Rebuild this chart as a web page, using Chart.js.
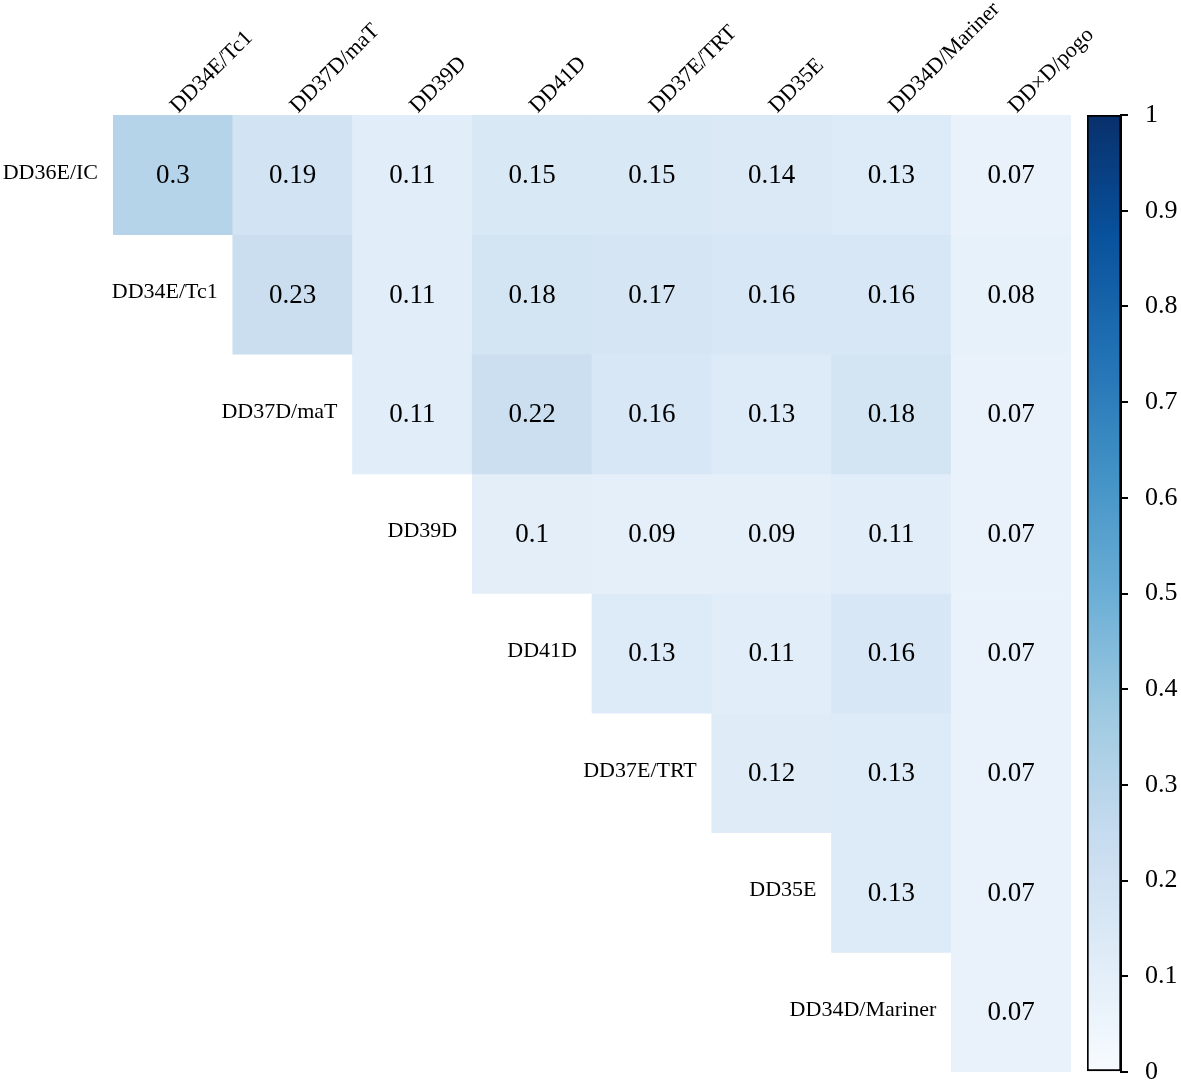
<!DOCTYPE html>
<html><head><meta charset="utf-8">
<script src="https://cdn.jsdelivr.net/npm/chart.js@4/dist/chart.umd.min.js"></script>
<style>
html,body{margin:0;padding:0;background:#fff;overflow:hidden;}
#wrap{position:relative;width:1181px;height:1084px;overflow:hidden;background:#fff;}
#main{position:absolute;left:0;top:0;}
#cbar{position:absolute;left:1060px;top:0;}
</style></head><body>
<div id="wrap">
<canvas id="main" width="1181" height="1084"></canvas>
<canvas id="cbar" width="121" height="1110"></canvas>
</div>
<script>
// ---- data ----
const colLabels = ['DD34E/Tc1','DD37D/maT','DD39D','DD41D','DD37E/TRT','DD35E','DD34D/Mariner','DD\u00d7D/pogo'];
const rowLabels = ['DD36E/IC','DD34E/Tc1','DD37D/maT','DD39D','DD41D','DD37E/TRT','DD35E','DD34D/Mariner'];
const rowDD36E  = [0.3, 0.19, 0.11, 0.15, 0.15, 0.14, 0.13, 0.07];
const rowDD34E  = [null, 0.23, 0.11, 0.18, 0.17, 0.16, 0.16, 0.08];
const rowDD37D  = [null, null, 0.11, 0.22, 0.16, 0.13, 0.18, 0.07];
const rowDD39D  = [null, null, null, 0.1, 0.09, 0.09, 0.11, 0.07];
const rowDD41D  = [null, null, null, null, 0.13, 0.11, 0.16, 0.07];
const rowDD37E  = [null, null, null, null, null, 0.12, 0.13, 0.07];
const rowDD35E  = [null, null, null, null, null, null, 0.13, 0.07];
const rowDD34D  = [null, null, null, null, null, null, null, 0.07];
const values = [rowDD36E,rowDD34E,rowDD37D,rowDD39D,rowDD41D,rowDD37E,rowDD35E,rowDD34D];
const colorbarTicks = [0,0.1,0.2,0.3,0.4,0.5,0.6,0.7,0.8,0.9,1];
const colorbarTickLabels = ['0','0.1','0.2','0.3','0.4','0.5','0.6','0.7','0.8','0.9','1'];

// ---- Blues colormap ----
const bluesStops = ['#f7fbff','#deebf7','#c6dbef','#9ecae1','#6baed6','#4292c6','#2171b5','#08519c','#08306b'];
function hex2rgb(h){return [parseInt(h.slice(1,3),16),parseInt(h.slice(3,5),16),parseInt(h.slice(5,7),16)];}
function blues(v){
  v = Math.max(0, Math.min(1, v));
  const n = bluesStops.length - 1;
  const pos = v * n;
  const i = Math.min(Math.floor(pos), n - 1);
  const t = pos - i;
  const a = hex2rgb(bluesStops[i]), b = hex2rgb(bluesStops[i+1]);
  const c = a.map((x,k)=>Math.round(x + (b[k]-x)*t));
  return 'rgb(' + c.join(',') + ')';
}

const SERIF = '"Liberation Serif", "Times New Roman", serif';

const datasets = rowLabels.map((r, i) => ({
  label: r,
  data: colLabels.map((c, j) => values[i][j] == null ? null : [i, i + 1]),
  backgroundColor: colLabels.map((c, j) => values[i][j] == null ? 'rgba(0,0,0,0)' : blues(values[i][j])),
  borderWidth: 0,
  grouped: false,
  categoryPercentage: 1,
  barPercentage: 1
}));

const cellText = {
  id: 'cellText',
  afterDatasetsDraw(chart) {
    const ctx = chart.ctx;
    ctx.save();
    ctx.fillStyle = '#000';
    chart.data.datasets.forEach((ds, i) => {
      const meta = chart.getDatasetMeta(i);
      meta.data.forEach((bar, j) => {
        const v = values[i][j];
        if (v == null) return;
        const p = bar.getProps(['x', 'y', 'base', 'width'], true);
        const cy = (p.y + p.base) / 2;
        ctx.font = '27px ' + SERIF;
        ctx.textAlign = 'center';
        ctx.textBaseline = 'middle';
        ctx.fillText(String(v), p.x, cy + 1);
        if (j === i) {
          ctx.font = '22px ' + SERIF;
          ctx.textAlign = 'right';
          ctx.fillText(rowLabels[i], p.x - p.width / 2 - 15, cy - 2);
        }
      });
    });
    ctx.restore();
  }
};

new Chart(document.getElementById('main'), {
  type: 'bar',
  data: { labels: colLabels, datasets },
  options: {
    responsive: false,
    animation: false,
    events: [],
    layout: { padding: { left: 113, right: 110, top: 0, bottom: 12 } },
    plugins: { legend: { display: false }, tooltip: { enabled: false } },
    scales: {
      x: {
        position: 'top',
        grid: { display: false },
        border: { display: false },
        ticks: {
          autoSkip: false, minRotation: 45, maxRotation: 45, padding: -12, labelOffset: 20,
          color: '#000', font: { family: SERIF, size: 22 }
        },
        afterFit: s => { s.height = 115; }
      },
      y: { display: false, min: 0, max: 8, reverse: true }
    }
  },
  plugins: [cellText]
});

new Chart(document.getElementById('cbar'), {
  type: 'bar',
  data: {
    labels: [''],
    datasets: [{
      data: [[0, 1]],
      backgroundColor: (c) => {
        const ca = c.chart.chartArea;
        if (!ca) return '#fff';
        const g = c.chart.ctx.createLinearGradient(0, ca.bottom, 0, ca.top);
        bluesStops.forEach((s, k) => g.addColorStop(k / (bluesStops.length - 1), s));
        return g;
      },
      borderColor: '#000',
      borderWidth: 2,
      borderSkipped: false,
      categoryPercentage: 1,
      barPercentage: 1
    }]
  },
  options: {
    responsive: false,
    animation: false,
    events: [],
    layout: { padding: { left: 27, right: 0, top: 115, bottom: 38 } },
    plugins: { legend: { display: false }, tooltip: { enabled: false } },
    scales: {
      x: { display: false },
      y: {
        position: 'right', min: 0, max: 1,
        afterBuildTicks: s => { s.ticks = colorbarTicks.map(v => ({ value: v })); },
        afterFit: s => { s.width = 60; },
        grid: { drawOnChartArea: false, tickLength: 7, color: '#000', lineWidth: 2 },
        border: { display: true, color: '#000', width: 2 },
        ticks: {
          padding: 17, color: '#000', font: { family: SERIF, size: 26 },
          callback: (v) => colorbarTickLabels[colorbarTicks.indexOf(v)] ?? String(v)
        }
      }
    }
  }
});
</script>
</body></html>
